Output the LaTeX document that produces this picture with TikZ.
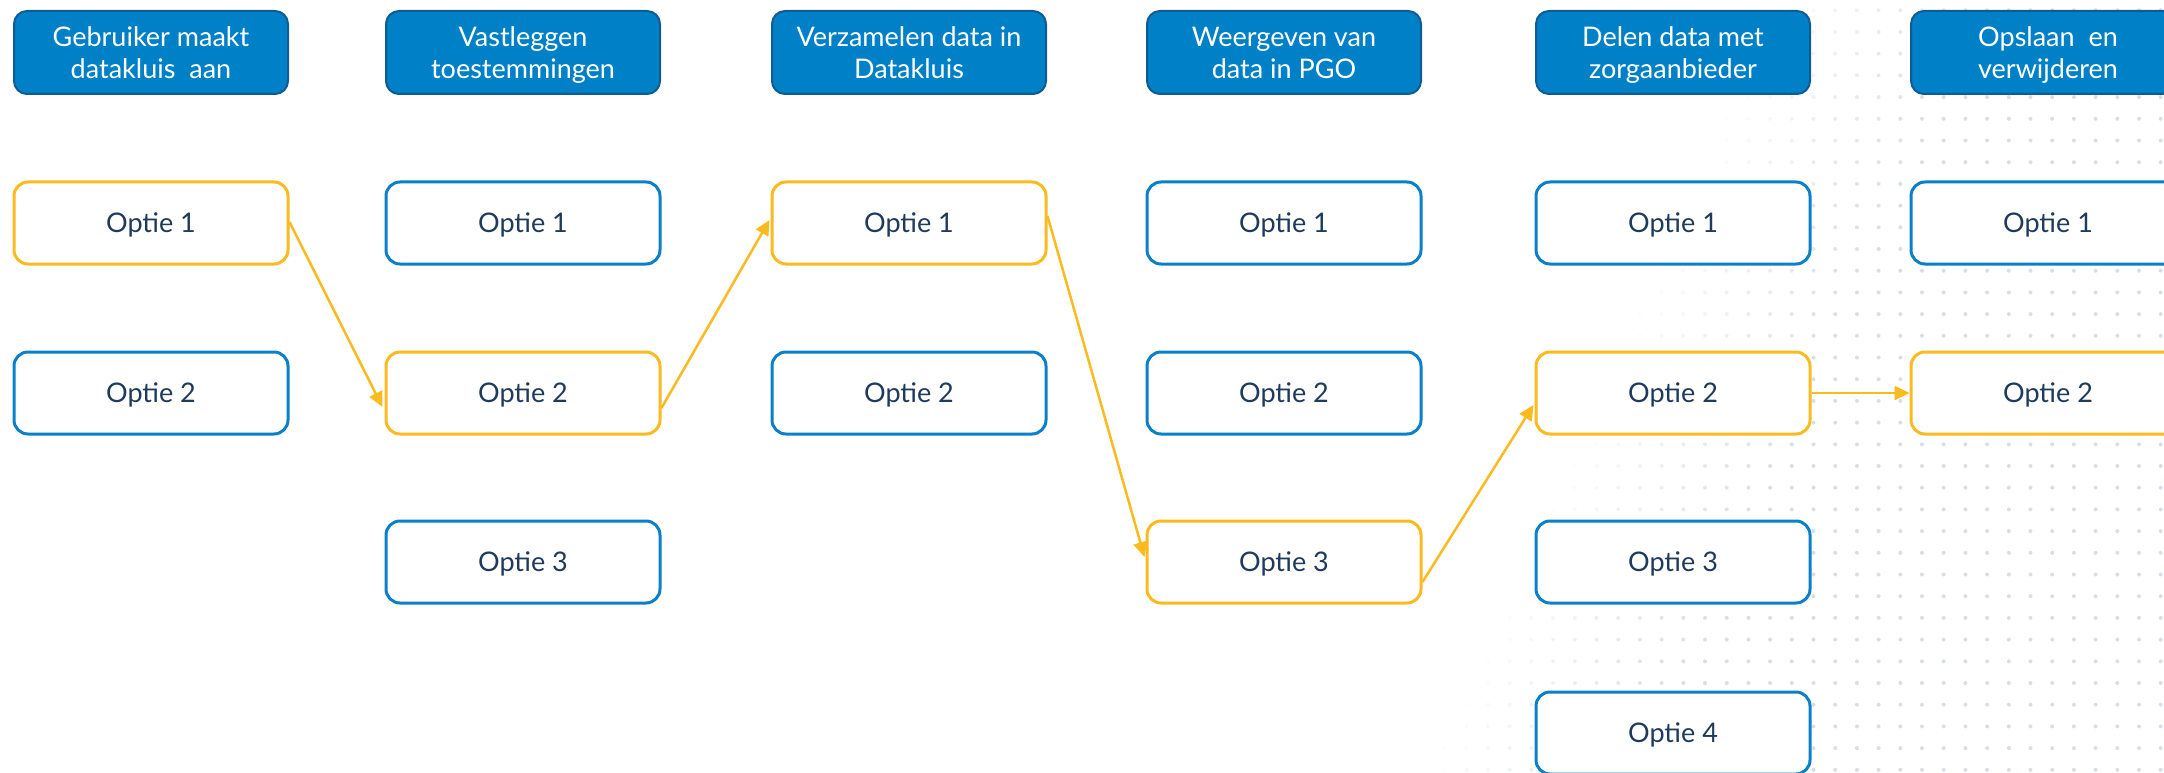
\documentclass[tikz,border=0pt]{standalone}
\usepackage{fontspec}
\setmainfont{Lato}
\usetikzlibrary{arrows.meta,calc}

\definecolor{kopblauw}{RGB}{0,128,199}
\definecolor{koprand}{RGB}{14,92,145}
\definecolor{randblauw}{RGB}{10,128,200}
\definecolor{inkt}{RGB}{30,58,92}
\definecolor{goud}{RGB}{251,186,32}
\definecolor{stip}{RGB}{214,222,231}

\begin{document}
\begin{tikzpicture}[x=1pt,y=-1pt,
	kop/.style={fill=kopblauw,draw=koprand,line width=2pt,rounded corners=13pt,
		minimum width=274pt,minimum height=83pt,inner sep=0pt,align=center,
		text depth=0pt,text=white,font=\fontsize{27}{32}\selectfont},
	optie/.style={fill=white,draw=randblauw,line width=3pt,rounded corners=14pt,
		minimum width=274pt,minimum height=82pt,inner sep=0pt,text depth=0pt,
		text=inkt,font=\fontsize{27}{32}\selectfont},
	gekozen/.style={optie,draw=goud},
	pijl/.style={goud,line width=2.5pt,-{Triangle[length=15pt,width=14pt]}}]
	\useasboundingbox (0,0) rectangle (2164,773);
	% stippen rechtsonder, naar links vervagend
	\foreach \i in {0,...,35}
		\foreach \j in {0,...,35}{
			\pgfmathsetmacro\px{1401.2+21.7*\i}
			\pgfmathsetmacro\py{10.3+21.7*\j}
			\pgfmathsetmacro\op{max(0,min(1,(\px-1440-(730-\py)*0.45)/220))}
			\fill[stip,opacity=\op] (\px,\py) circle[radius=2pt];
		}
	% stappen
	\node[kop] (k1) at (151,52.5) {Gebruiker maakt\\datakluis~ aan};
	\node[kop] (k2) at (523,52.5) {Vastleggen\\toestemmingen};
	\node[kop] (k3) at (909,52.5) {Verzamelen data in\\Datakluis};
	\node[kop] (k4) at (1284,52.5) {Weergeven van\\data in PGO};
	\node[kop] (k5) at (1673,52.5) {Delen data met\\zorgaanbieder};
	\node[kop] (k6) at (2048,52.5) {Opslaan~ en\\verwijderen};
	% opties
	\node[gekozen] (o11) at (151,223) {Optie 1};
	\node[optie] (o12) at (151,393) {Optie 2};
	\node[optie] (o21) at (523,223) {Optie 1};
	\node[gekozen] (o22) at (523,393) {Optie 2};
	\node[optie] (o23) at (523,562) {Optie 3};
	\node[gekozen] (o31) at (909,223) {Optie 1};
	\node[optie] (o32) at (909,393) {Optie 2};
	\node[optie] (o41) at (1284,223) {Optie 1};
	\node[optie] (o42) at (1284,393) {Optie 2};
	\node[gekozen] (o43) at (1284,562) {Optie 3};
	\node[optie] (o51) at (1673,223) {Optie 1};
	\node[gekozen] (o52) at (1673,393) {Optie 2};
	\node[optie] (o53) at (1673,562) {Optie 3};
	\node[optie] (o54) at (1673,733) {Optie 4};
	\node[optie] (o61) at (2048,223) {Optie 1};
	\node[gekozen] (o62) at (2048,393) {Optie 2};
	% gekozen route
	\draw[pijl] ($(o11.east)+(0,-1)$) -- ($(o22.west)+(-2,14)$);
	\draw[pijl] ($(o22.east)+(0,15)$) -- ($(o31.west)+(-1,-3)$);
	\draw[pijl] ($(o31.east)+(0,-7)$) -- ($(o43.west)+(-1,-5)$);
	\draw[pijl] ($(o43.east)+(0,20)$) -- ($(o52.west)+(-1,12)$);
	\draw[pijl] (o52.east) -- (o62.west);
\end{tikzpicture}
\end{document}
